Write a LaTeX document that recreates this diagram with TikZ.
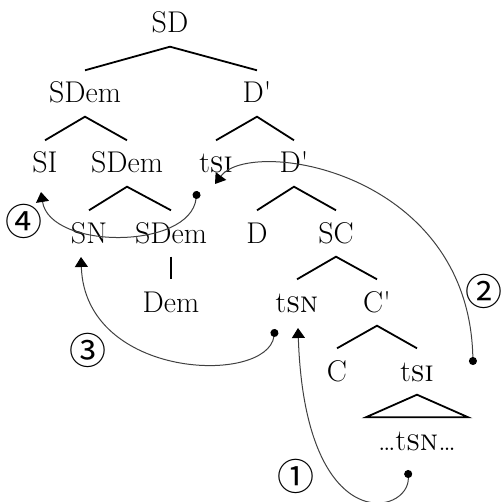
\documentclass[tikz,border=0pt]{standalone}
\usepackage{fontspec}
\newfontfamily\circfont{Noto Sans CJK JP}
\usetikzlibrary{arrows.meta,calc}

\begin{document}
\begin{tikzpicture}[x=1pt,y=-1pt,
    lbl/.style={font=\fontsize{30}{32}\selectfont,text height=19pt,text depth=0pt,inner xsep=1pt,inner ysep=13.5pt,anchor=base},
    branch/.style={line width=1.8pt},
    move/.style={line width=1pt,draw=black!75,{Circle[length=8pt,color=black]}-{Triangle[width=13pt,length=10pt,color=black]}},
    num/.style={font=\circfont\fontsize{37}{39}\selectfont,inner sep=0pt}]
    \useasboundingbox (0,0) rectangle (501,502);
    % tree labels
    \node[lbl] (SD) at (170,33) {SD};
    \node[lbl] (SDem1) at (85,103) {SDem};
    \node[lbl] (Dp1) at (257,103) {D\textquotesingle};
    \node[lbl] (SI) at (45,173) {SI};
    \node[lbl] (SDem2) at (127,173) {SDem};
    \node[lbl] (tSI1) at (216,173) {t\textsc{si}};
    \node[lbl] (Dp2) at (294,173) {D\textquotesingle};
    \node[lbl] (SN) at (89,243) {SN};
    \node[lbl] (SDem3) at (171,243) {SDem};
    \node[lbl] (D) at (257,243) {D};
    \node[lbl] (SC) at (336,243) {SC};
    \node[lbl] (Dem) at (171,312) {Dem};
    \node[lbl] (tSN) at (297,312) {t\textsc{sn}};
    \node[lbl] (Cp) at (377,312) {C\textquotesingle};
    \node[lbl] (C) at (337,381) {C};
    \node[lbl] (tSI2) at (417,381) {t\textsc{si}};
    \node[lbl,minimum width=102pt] (dots) at (417,450) {\dots t\textsc{sn}\dots};
    % branches
    \draw[branch] (SDem1.north) -- (SD.south) -- (Dp1.north);
    \draw[branch] (SI.north) -- (SDem1.south) -- (SDem2.north);
    \draw[branch] (tSI1.north) -- (Dp1.south) -- (Dp2.north);
    \draw[branch] (SN.north) -- (SDem2.south) -- (SDem3.north);
    \draw[branch] (D.north) -- (Dp2.south) -- (SC.north);
    \draw[branch] (SDem3.south) -- (Dem.north);
    \draw[branch] (tSN.north) -- (SC.south) -- (Cp.north);
    \draw[branch] (C.north) -- (Cp.south) -- (tSI2.north);
    \draw[branch] (tSI2.south) -- (dots.north west) -- (dots.north east) -- cycle;
    % movements
    \draw[move] ($(dots.base)+(-9,20)$) .. controls +(2,45) and +(7,212) .. ($(tSN.base)+(1,16)$);
    \draw[move] ($(tSI2.base)+(56,-16)$) .. controls +(-4,-195) and +(35,-47) .. ($(tSI1.base)+(-1,11)$);
    \draw[move] ($(tSN.base)+(-22,17)$) .. controls +(-8,56) and +(4,123) .. ($(SN.base)+(-8,14)$);
    \draw[move] ($(tSI1.base)+(-19,18)$) .. controls +(-7,59) and +(9,58) .. ($(SI.base)+(-4,19)$);
    % step numbers
    \node[num] (n1) at (296,476) {①};
    \node[num] (n2) at (484,291) {②};
    \node[num] (n3) at (88,350) {③};
    \node[num] (n4) at (24,221) {④};
\end{tikzpicture}
\end{document}
